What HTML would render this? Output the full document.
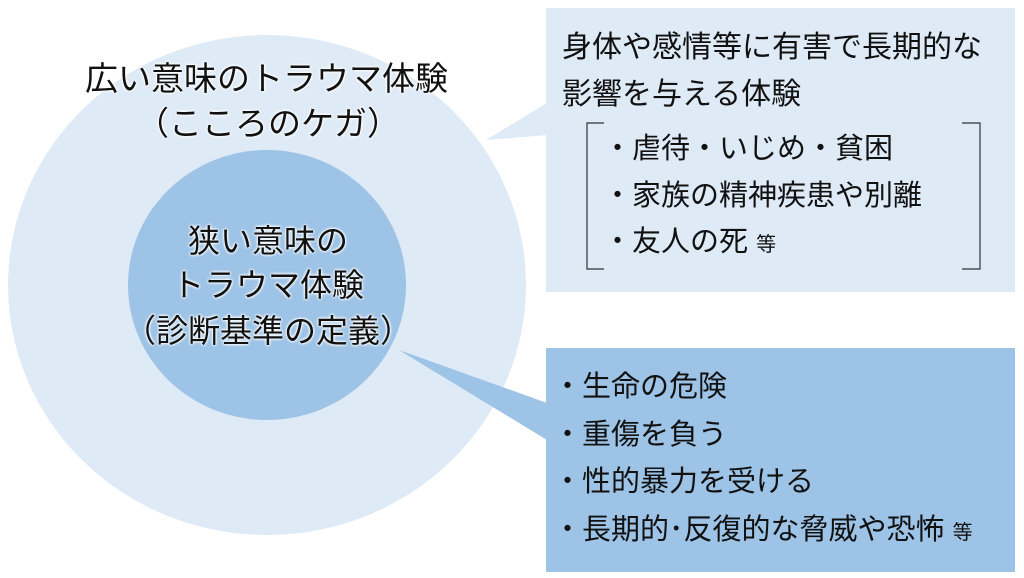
<!DOCTYPE html>
<html><head><meta charset="utf-8"><style>
body{margin:0;width:1024px;height:578px;overflow:hidden;background:#fff;position:relative;font-family:"Liberation Sans","Noto Sans CJK JP",sans-serif;color:#111}
.t{position:absolute;white-space:nowrap;line-height:1}
.h{text-shadow:0 0 3px #fff,0 0 3px #fff,0 0 2px #fff}
</style></head><body>
<svg width="1024" height="578" style="position:absolute;left:0;top:0">
<ellipse cx="267" cy="285" rx="259" ry="250" fill="#deeaf6"/>
<rect x="546" y="8" width="469" height="284" fill="#deeaf6"/>
<polygon points="486,140 547,103 547,135" fill="#deeaf6"/>
<ellipse cx="267" cy="285" rx="139" ry="135" fill="#9dc3e6"/>
<rect x="546" y="348" width="469" height="224" fill="#9dc3e6"/>
<polygon points="399,350 547,403 547,440" fill="#9dc3e6"/>
<path d="M604,123 H587 V269 H604 M962,123 H980 V269 H962" fill="none" stroke="#333" stroke-width="1.2"/>
</svg>
<div class="t h" style="left:85px;top:62px;font-size:33px">広い意味のトラウマ体験</div>
<div class="t h" style="left:268px;top:107px;font-size:33px;transform:translateX(-50%)">（こころのケガ）</div>
<div class="t h" style="left:268px;top:225px;font-size:32px;transform:translateX(-50%)">狭い意味の</div>
<div class="t h" style="left:268px;top:269px;font-size:32px;transform:translateX(-50%)">トラウマ体験</div>
<div class="t h" style="left:268px;top:315px;font-size:32px;transform:translateX(-50%)">（診断基準の定義）</div>
<div class="t" style="left:562px;top:33px;font-size:30px">身体や感情等に有害で長期的な</div>
<div class="t" style="left:562px;top:80px;font-size:30px">影響を与える体験</div>
<div class="t" style="left:603px;top:135px;font-size:29px">・虐待・いじめ・貧困</div>
<div class="t" style="left:603px;top:182px;font-size:29px">・家族の精神疾患や別離</div>
<div class="t" style="left:603px;top:228px;font-size:29px">・友人の死 <span style="font-size:20px">等</span></div>
<div class="t" style="left:553px;top:373px;font-size:29px">・生命の危険</div>
<div class="t" style="left:553px;top:421px;font-size:29px">・重傷を負う</div>
<div class="t" style="left:553px;top:468px;font-size:29px">・性的暴力を受ける</div>
<div class="t" style="left:553px;top:516px;font-size:29px">・長期的･反復的な脅威や恐怖 <span style="font-size:20px">等</span></div>
</body></html>
